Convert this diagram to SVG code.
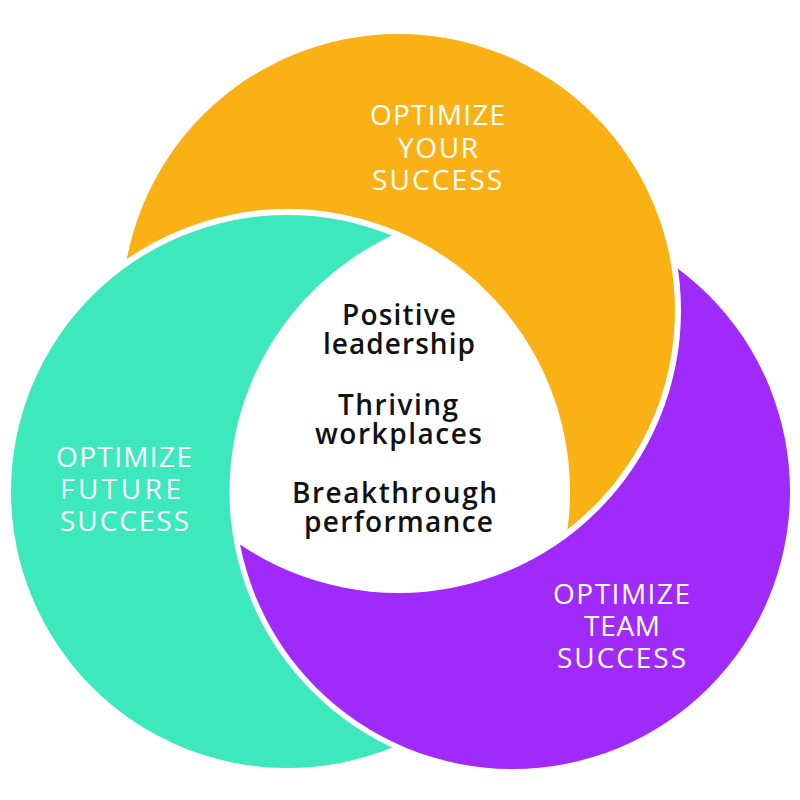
<svg xmlns="http://www.w3.org/2000/svg" width="800" height="800" viewBox="0 0 800 800">
<style>
.lbl{font-family:"Open Sans","Liberation Sans",sans-serif;font-weight:500;font-size:28px;fill:#ffffff;text-anchor:middle}
.ctr{font-family:"Open Sans","Liberation Sans",sans-serif;font-weight:600;font-size:28px;fill:#111111;text-anchor:middle}
</style>
<defs>
<mask id="mOrange" maskUnits="userSpaceOnUse" x="0" y="0" width="800" height="800">
<rect x="0" y="0" width="800" height="800" fill="#fff"/>
<circle cx="287.5" cy="491.5" r="282.5" fill="#000"/>
</mask>
<mask id="mTeal" maskUnits="userSpaceOnUse" x="0" y="0" width="800" height="800">
<rect x="0" y="0" width="800" height="800" fill="#fff"/>
<circle cx="512.5" cy="491.5" r="283" fill="#000"/>
</mask>
<mask id="mPurple" maskUnits="userSpaceOnUse" x="0" y="0" width="800" height="800">
<rect x="0" y="0" width="800" height="800" fill="#fff"/>
<circle cx="398.5" cy="310.5" r="282.5" fill="#000"/>
</mask>
</defs>
<rect x="0" y="0" width="800" height="800" fill="#ffffff"/>
<g id="orange">
<circle cx="398.5" cy="310.5" r="276.5" fill="#FAB116" mask="url(#mOrange)"/>
<text class="lbl"><tspan x="437.5" y="125" textLength="135" lengthAdjust="spacing">OPTIMIZE</tspan><tspan x="438" y="158" textLength="80" lengthAdjust="spacing">YOUR</tspan><tspan x="437" y="190" textLength="130" lengthAdjust="spacing">SUCCESS</tspan></text>
</g>
<g id="teal">
<circle cx="287.5" cy="491.5" r="276.5" fill="#3DE8BD" mask="url(#mTeal)"/>
<text class="lbl"><tspan x="124" y="467" textLength="136" lengthAdjust="spacing">OPTIMIZE</tspan><tspan x="120.5" y="499" textLength="121" lengthAdjust="spacing">FUTURE</tspan><tspan x="124.5" y="531" textLength="129" lengthAdjust="spacing">SUCCESS</tspan></text>
</g>
<g id="purple">
<circle cx="512.5" cy="491.5" r="277.5" fill="#A02AFA" mask="url(#mPurple)"/>
<text class="lbl"><tspan x="621.5" y="604" textLength="137" lengthAdjust="spacing">OPTIMIZE</tspan><tspan x="622" y="636" textLength="76" lengthAdjust="spacing">TEAM</tspan><tspan x="621.5" y="668" textLength="129" lengthAdjust="spacing">SUCCESS</tspan></text>
</g>
<g id="center">
<text class="ctr"><tspan x="399" y="325" textLength="114" lengthAdjust="spacing">Positive</tspan><tspan x="399" y="354" textLength="152" lengthAdjust="spacing">leadership</tspan></text>
<text class="ctr"><tspan x="398" y="415" textLength="120" lengthAdjust="spacing">Thriving</tspan><tspan x="398.5" y="444" textLength="167" lengthAdjust="spacing">workplaces</tspan></text>
<text class="ctr"><tspan x="394.5" y="503" textLength="205" lengthAdjust="spacing">Breakthrough</tspan><tspan x="398.5" y="532" textLength="189" lengthAdjust="spacing">performance</tspan></text>
</g>
<g id="connectors"/>
</svg>
